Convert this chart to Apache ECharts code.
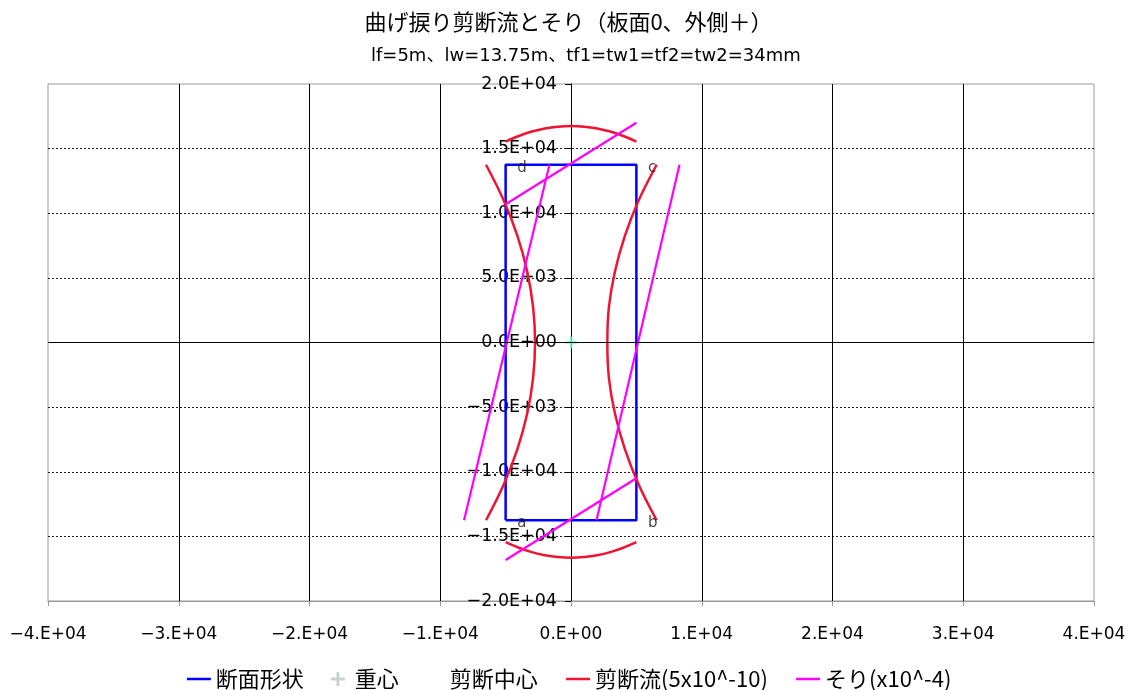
<!DOCTYPE html>
<html><head><meta charset="utf-8">
<script src="https://cdn.jsdelivr.net/npm/echarts/dist/echarts.min.js"></script>
<style>html,body{margin:0;padding:0;background:#fff}#c{width:1137px;height:690px}</style>
</head><body><div id="c"></div>
<script>
// ---- data ----
const titleText = '曲げ捩り剪断流とそり（板面0、外側＋）';
const subTitleText = 'lf=5m、lw=13.75m、tf1=tw1=tf2=tw2=34mm';
const legendNames = ['断面形状', '重心', '剪断中心', '剪断流(5x10^-10)', 'そり(x10^-4)'];

const xTickLabels = ['−4.E+04','−3.E+04','−2.E+04','−1.E+04','0.E+00','1.E+04','2.E+04','3.E+04','4.E+04'];
const yTickLabels = ['−2.0E+04','−1.5E+04','−1.0E+04','−5.0E+03','0.0E+00','5.0E+03','1.0E+04','1.5E+04','2.0E+04'];
const xMin = -40000, xMax = 40000, xStep = 10000;
const yMin = -20000, yMax = 20000, yStep = 5000;

// cross-section outline a-b-c-d-a
const sectionX = [-5000, 5000, 5000, -5000, -5000];
const sectionY = [-13750, -13750, 13750, 13750, -13750];
const cornerNames = ['a', 'b', 'c', 'd'];

// centroid and shear centre
const centroid = [0, 0];
const shearCentre = [0, 0];

// shear flow (5x10^-10), one curve per plate
const shearTopX = [-5000, -4000, -3000, -2000, -1000, 0, 1000, 2000, 3000, 4000, 5000];
const shearTopY = [15550, 15980, 16320, 16560, 16700, 16750, 16700, 16560, 16320, 15980, 15550];
const shearBottomX = [-5000, -4000, -3000, -2000, -1000, 0, 1000, 2000, 3000, 4000, 5000];
const shearBottomY = [-15450, -15880, -16220, -16460, -16600, -16650, -16600, -16460, -16220, -15880, -15450];
const shearLeftX = [-6500, -5150, -4100, -3350, -2900, -2750, -2900, -3350, -4100, -5150, -6500];
const shearLeftY = [13750, 11000, 8250, 5500, 2750, 0, -2750, -5500, -8250, -11000, -13750];
const shearRightX = [6550, 5180, 4120, 3360, 2900, 2780, 2900, 3360, 4120, 5180, 6550];
const shearRightY = [13750, 11000, 8250, 5500, 2750, 0, -2750, -5500, -8250, -11000, -13750];

// warping (x10^-4), straight line per plate
const warpTopX = [-5000, 5000];
const warpTopY = [10700, 17000];
const warpBottomX = [-5000, 5000];
const warpBottomY = [-16830, -10500];
const warpLeftX = [-1650, -8180];
const warpLeftY = [13750, -13750];
const warpRightX = [8300, 1950];
const warpRightY = [13750, -13750];

// ---- build ----
const zip = (xs, ys) => xs.map((x, i) => [x, ys[i]]);
const FONT = 'DejaVu Sans';
const CJK = '"Noto Sans CJK JP", "Noto Sans CJK SC", sans-serif';
const RED = '#f01432', MAG = '#ff00ff', BLUE = '#0000ff';
const GRID = { left: 48, right: 43, top: 84, bottom: 89 };
const plotW = 1137 - GRID.left - GRID.right;
const zeroOffset = -plotW * (0 - xMin) / (xMax - xMin);

const chart = echarts.init(document.getElementById('c'));

function lineSeries(name, data, color, smooth, width) {
  return {
    name, type: 'line', data, symbol: 'none', smooth: smooth ? 0.35 : false,
    lineStyle: { color, width }, itemStyle: { color }, z: 3, silent: true, animation: false
  };
}

const series = [
  Object.assign(lineSeries(legendNames[0], zip(sectionX, sectionY), BLUE, false, 2.5), {
    markLine: {
      silent: true, symbol: ['none', 'none'], label: { show: false },
      lineStyle: { color: '#000', width: 1, type: 'solid' },
      data: [{ yAxis: 0 }], animation: false
    }
  }),
  {
    name: legendNames[1], type: 'scatter', data: [centroid],
    symbol: 'path://M4,0 L6,0 L6,4 L10,4 L10,6 L6,6 L6,10 L4,10 L4,6 L0,6 L0,4 L4,4 Z',
    symbolSize: 12, itemStyle: { color: '#6ff2cc' }, z: 4, silent: true, animation: false
  },
  {
    name: legendNames[2], type: 'scatter', data: [shearCentre],
    symbolSize: 8, itemStyle: { color: 'rgba(255,255,255,0)' }, z: 4, silent: true, animation: false
  },
  lineSeries(legendNames[3], zip(shearTopX, shearTopY), RED, true, 2.5),
  lineSeries(legendNames[3], zip(shearLeftX, shearLeftY), RED, true, 2.5),
  lineSeries(legendNames[3], zip(shearRightX, shearRightY), RED, true, 2.5),
  lineSeries(legendNames[3], zip(shearBottomX, shearBottomY), RED, true, 2.5),
  lineSeries(legendNames[4], zip(warpTopX, warpTopY), MAG, false, 2.2),
  lineSeries(legendNames[4], zip(warpLeftX, warpLeftY), MAG, false, 2.2),
  lineSeries(legendNames[4], zip(warpRightX, warpRightY), MAG, false, 2.2),
  lineSeries(legendNames[4], zip(warpBottomX, warpBottomY), MAG, false, 2.2),
  {
    name: 'corners', type: 'scatter', symbolSize: 1, itemStyle: { color: 'rgba(255,255,255,0)' },
    data: cornerNames.map((n, i) => [sectionX[i], sectionY[i], n]),
    label: {
      show: true, position: 'right', distance: 11, offset: [0, 3],
      formatter: p => p.value[2], color: '#201010', fontSize: 15, fontFamily: FONT
    },
    z: 5, silent: true, animation: false
  }
];

const hideSym = { opacity: 0 };

chart.setOption({
  animation: false,
  backgroundColor: '#fff',
  title: [
    { text: titleText, left: 'center', top: 6, textStyle: { fontFamily: CJK, fontSize: 22, fontWeight: 'normal', color: '#000' } },
    { text: subTitleText, left: 366, top: 42, textStyle: { fontFamily: 'DejaVu Sans, "Noto Sans CJK JP"', fontSize: 18, fontWeight: 'normal', color: '#000' } }
  ],
  legend: {
    data: [
      { name: legendNames[0], itemStyle: hideSym },
      { name: legendNames[1], itemStyle: { color: '#b8c8cc' } },
      { name: legendNames[2] },
      { name: legendNames[3], itemStyle: hideSym },
      { name: legendNames[4], itemStyle: hideSym }
    ],
    left: 'center', top: 663, itemWidth: 24, itemHeight: 14, itemGap: 27,
    lineStyle: { width: 2.5 },
    textStyle: { fontFamily: CJK, fontSize: 22, color: '#000' },
    selectedMode: false
  },
  grid: Object.assign({ show: true, borderColor: '#999', borderWidth: 1, containLabel: false, outerBoundsMode: 'none' }, GRID),
  xAxis: {
    type: 'value', min: xMin, max: xMax, interval: xStep,
    axisLine: { onZero: false, lineStyle: { color: '#999' } },
    axisTick: { show: true, length: 5, lineStyle: { color: '#999' } },
    axisLabel: {
      formatter: v => xTickLabels[Math.round((v - xMin) / xStep)],
      fontFamily: FONT, fontSize: 17, color: '#000', margin: 25,
      showMinLabel: true, showMaxLabel: true
    },
    splitLine: { show: true, showMinLine: false, showMaxLine: false, lineStyle: { color: '#000', width: 1, type: 'solid' } }
  },
  yAxis: {
    type: 'value', min: yMin, max: yMax, interval: yStep, position: 'left', offset: zeroOffset,
    axisLine: { onZero: false, lineStyle: { color: '#000' } },
    axisTick: { show: true, length: 6, lineStyle: { color: '#000' } },
    axisLabel: {
      formatter: v => yTickLabels[Math.round((v - yMin) / yStep)],
      fontFamily: FONT, fontSize: 17.5, color: '#000', margin: 14,
      showMinLabel: true, showMaxLabel: true
    },
    splitLine: { show: true, showMinLine: false, showMaxLine: false, lineStyle: { color: '#222', width: 1, type: [2, 2] } }
  },
  series
});
</script></body></html>
